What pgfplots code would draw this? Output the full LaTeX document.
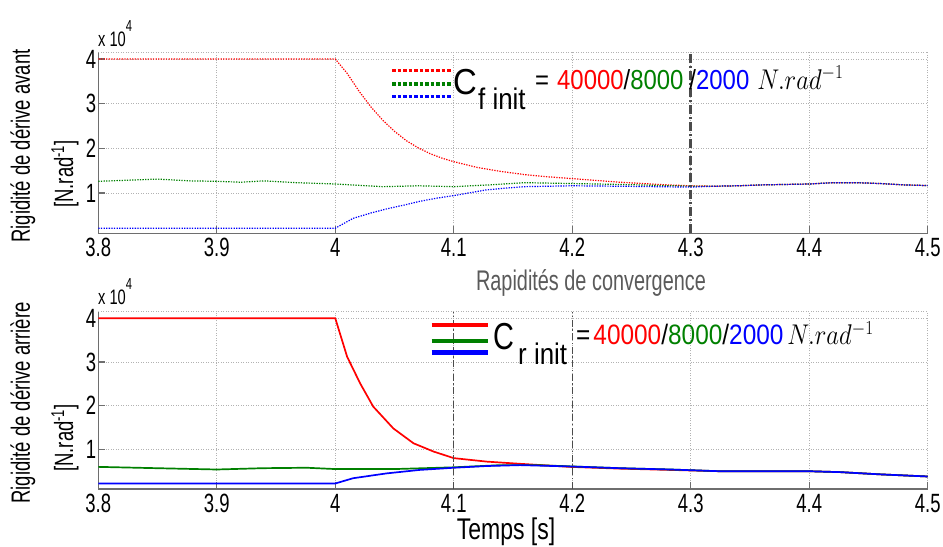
\documentclass[border=0pt]{standalone}
\usepackage{pgfplots}
\pgfplotsset{compat=1.18}
\usepackage{fontspec}
\setmainfont{Liberation Sans}
\newfontfamily\cond[FakeStretch=0.7]{Liberation Sans}
\newfontfamily\condb[FakeStretch=0.77]{Liberation Sans}
\definecolor{mred}{RGB}{255,0,0}
\definecolor{mgreen}{RGB}{0,128,0}
\definecolor{mblue}{RGB}{0,0,255}
\definecolor{axgray}{RGB}{110,110,110}
\definecolor{titgray}{RGB}{90,90,90}
\definecolor{dgray}{RGB}{75,75,75}

\pgfplotsset{
  myaxis/.style={
    scale only axis, width=829.4bp,
    xmin=3.8, xmax=4.5,
    xtick={3.8,3.9,4,4.1,4.2,4.3,4.4,4.5},
    xticklabels={3.8,3.9,4,4.1,4.2,4.3,4.4,4.5},
    ytick={1,2,3,4}, yticklabels={1,2,3,4},
    axis x line*=bottom, axis y line*=left,
    axis line style={axgray, line width=1.2bp},
    tick style={axgray, line width=1.2bp},
    major tick length=7bp, tick align=inside,
    grid=major,
    major grid style={gray!60, line width=0.6bp, dash pattern=on 1bp off 1.5bp},
    tick label style={font=\cond\fontsize{26.5}{27}\selectfont, text=black},
    xticklabel style={inner sep=2bp, yshift=-3bp},
    yticklabel style={inner sep=2bp},
    /pgf/number format/assume math mode=true,
  },
  topline/.style={line width=1.2bp, dash pattern=on 1.3bp off 1.3bp},
  botline/.style={line width=1.7bp},
}

\begin{document}
\begin{tikzpicture}[x=1bp,y=1bp]
\useasboundingbox (0,0) rectangle (943,547);

% ---------------- top axis ----------------
\begin{axis}[myaxis, at={(98.3bp,313.7bp)}, anchor=south west,
  height=181.3bp, ymin=0.096, ymax=4.157]
\draw[gray!60, line width=0.6bp, dash pattern=on 1bp off 1.5bp]
  (rel axis cs:0,1) -- (rel axis cs:1,1);
\addplot[mred, topline] coordinates {
(3.8,4.0) (4.0,4.0) (4.01,3.68) (4.02,3.28) (4.03,2.93) (4.04,2.63) (4.05,2.38)
(4.06,2.17) (4.07,2.01) (4.08,1.88) (4.09,1.78) (4.1,1.70) (4.12,1.57) (4.14,1.48)
(4.16,1.41) (4.18,1.36) (4.2,1.32) (4.22,1.28) (4.24,1.24) (4.26,1.21) (4.28,1.18)
(4.3,1.16) (4.32,1.15) (4.34,1.16) (4.36,1.18) (4.38,1.19) (4.40,1.20) (4.42,1.23)
(4.44,1.23) (4.46,1.21) (4.48,1.18) (4.5,1.165)};
\addplot[mgreen, topline] coordinates {
(3.8,1.26) (3.82,1.28) (3.85,1.31) (3.877,1.27) (3.9,1.26) (3.92,1.24) (3.94,1.27)
(3.967,1.23) (4.0,1.20) (4.02,1.17) (4.04,1.14) (4.07,1.16) (4.1,1.14) (4.13,1.18)
(4.16,1.23) (4.2,1.21) (4.24,1.19) (4.3,1.15) (4.32,1.15) (4.34,1.16) (4.36,1.18)
(4.38,1.19) (4.40,1.20) (4.42,1.23) (4.44,1.23) (4.46,1.21) (4.48,1.18) (4.5,1.165)};
\addplot[mblue, topline] coordinates {
(3.8,0.21) (4.0,0.21) (4.015,0.43) (4.03,0.55) (4.043,0.64) (4.06,0.74) (4.071,0.81)
(4.085,0.88) (4.1,0.94) (4.115,1.01) (4.128,1.07) (4.145,1.11) (4.16,1.14) (4.2,1.16)
(4.24,1.15) (4.3,1.13) (4.32,1.15) (4.34,1.16) (4.36,1.18) (4.38,1.19) (4.40,1.20)
(4.42,1.23) (4.44,1.23) (4.46,1.21) (4.48,1.18) (4.5,1.165)};
\addplot[dgray, line width=2.5bp, dash pattern=on 9bp off 3bp on 2bp off 3bp]
  coordinates {(4.3,0.096) (4.3,4.157)};
\end{axis}

% ---------------- bottom axis ----------------
\begin{axis}[myaxis, at={(98.3bp,58bp)}, anchor=south west,
  height=177.3bp, ymin=0.094, ymax=4.15]
\draw[gray!60, line width=0.6bp, dash pattern=on 1bp off 1.5bp]
  (rel axis cs:0,1) -- (rel axis cs:1,1);
\addplot[mred, botline] coordinates {
(3.8,4.0) (4.0,4.0) (4.01,3.12) (4.021,2.51) (4.032,1.98) (4.049,1.48) (4.066,1.14)
(4.083,0.95) (4.1,0.80) (4.128,0.72) (4.156,0.67) (4.198,0.60) (4.24,0.56)
(4.283,0.53) (4.325,0.50) (4.361,0.50) (4.4,0.50) (4.426,0.48) (4.459,0.43) (4.5,0.38)};
\addplot[mgreen, botline] coordinates {
(3.8,0.60) (3.849,0.57) (3.9,0.54) (3.939,0.57) (3.976,0.58) (4.0,0.55) (4.05,0.55)
(4.1,0.59) (4.14,0.64) (4.17,0.64) (4.2,0.61) (4.24,0.57) (4.283,0.54)
(4.325,0.50) (4.361,0.50) (4.4,0.50) (4.426,0.48) (4.459,0.43) (4.5,0.38)};
\addplot[mblue, botline] coordinates {
(3.8,0.22) (4.0,0.22) (4.015,0.34) (4.043,0.45) (4.071,0.53) (4.1,0.58) (4.128,0.62)
(4.156,0.64) (4.198,0.61) (4.24,0.57) (4.283,0.54) (4.325,0.50) (4.361,0.50)
(4.4,0.50) (4.426,0.48) (4.459,0.43) (4.5,0.38)};
\addplot[dgray, line width=1bp, dash pattern=on 7bp off 2.5bp on 1.5bp off 2.5bp]
  coordinates {(4.1,0.094) (4.1,4.15)};
\addplot[dgray, line width=1bp, dash pattern=on 7bp off 2.5bp on 1.5bp off 2.5bp]
  coordinates {(4.2,0.094) (4.2,4.15)};
\end{axis}

% ---------------- labels ----------------
\node[rotate=90, inner sep=0, font=\cond\fontsize{26.5}{27}\selectfont] at (23,401) {Rigidité de dérive avant};
\node[rotate=90, inner sep=0, font=\cond\fontsize{26.5}{27}\selectfont] at (65,373) {[N.rad\textsuperscript{-1}]};
\node[rotate=90, inner sep=0, font=\cond\fontsize{26.5}{27}\selectfont] at (23,144) {Rigidité de dérive arrière};
\node[rotate=90, inner sep=0, font=\cond\fontsize{26.5}{27}\selectfont] at (65,109) {[N.rad\textsuperscript{-1}]};

\node[anchor=base west, inner sep=0, font=\cond\fontsize{21}{21}\selectfont] at (98,500)
  {x 10\raisebox{15bp}{\fontsize{16}{16}\selectfont 4}};
\node[anchor=base west, inner sep=0, font=\cond\fontsize{21}{21}\selectfont] at (98,242)
  {x 10\raisebox{15bp}{\fontsize{16}{16}\selectfont 4}};

\node[inner sep=0, font=\cond\fontsize{28.5}{29}\selectfont, text=titgray] at (591,264) {Rapidités de convergence};
\node[anchor=base, inner sep=0, font=\condb\fontsize{30}{30}\selectfont] at (506,7) {Temps [s]};

% ---------------- legend top ----------------
\draw[mred, line width=3.5bp, dash pattern=on 3.5bp off 2bp] (392,476.3) -- (452,476.3);
\draw[mgreen, line width=3.5bp, dash pattern=on 3.5bp off 2bp] (392,463) -- (452,463);
\draw[mblue, line width=3.5bp, dash pattern=on 3.5bp off 2bp] (392,450.3) -- (452,450.3);
\node[anchor=base west, inner sep=0] at (453,452.7) {\scalebox{1}[1.1]{\fontsize{33}{33}\selectfont C}};
\node[anchor=base west, inner sep=0] at (478,437) {\scalebox{1}[1.15]{\fontsize{26}{26}\selectfont f init}};
\node[anchor=base west, inner sep=0] at (535,457.7) {\scalebox{1}[1.15]{\fontsize{24}{24}\selectfont =\hspace{8bp}\textcolor{mred}{40000}/\textcolor{mgreen}{8000}\hspace{6bp}/\textcolor{mblue}{2000}\hspace{8bp}$N.rad^{-1}$}};

% ---------------- legend bottom ----------------
\draw[mred, line width=4.5bp] (431.7,222) -- (488,222);
\draw[mgreen, line width=4.5bp] (431.7,206) -- (488,206);
\draw[mblue, line width=4.5bp] (431.7,194.7) -- (488,194.7);
\node[anchor=base west, inner sep=0] at (493,197) {\scalebox{1}[1.3]{\fontsize{29}{29}\selectfont C}};
\node[anchor=base west, inner sep=0] at (518,182) {\scalebox{1}[1.15]{\fontsize{26}{26}\selectfont r init}};
\node[anchor=base west, inner sep=0] at (576,202) {\scalebox{1}[1.15]{\fontsize{24.5}{24.5}\selectfont =\hspace{3bp}\textcolor{mred}{40000}/\textcolor{mgreen}{8000}/\textcolor{mblue}{2000}\hspace{4bp}$N.rad^{-1}$}};
\end{tikzpicture}
\end{document}
